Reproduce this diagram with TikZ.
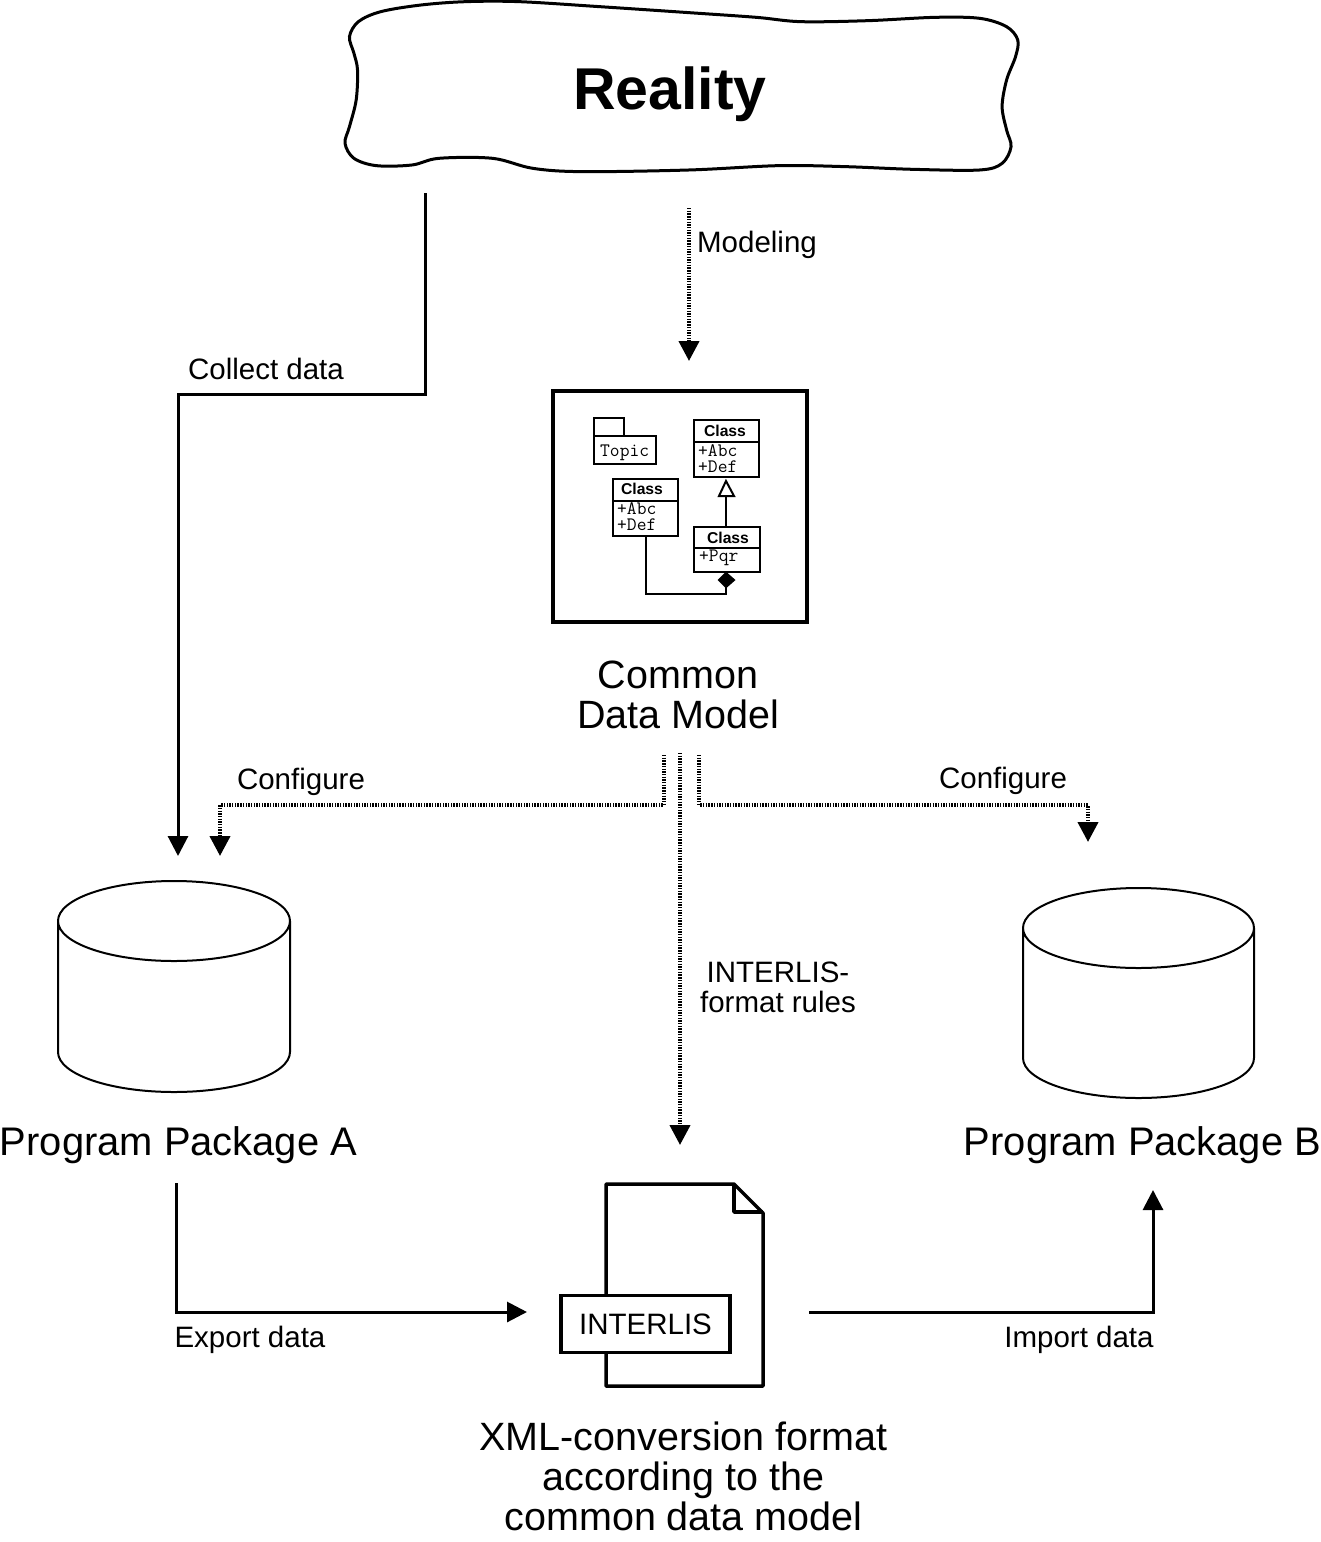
\documentclass[tikz,border=0pt]{standalone}
\usepackage{fontspec}
\setmainfont{Liberation Sans}
\usetikzlibrary{arrows.meta}
\tikzset{
  solidarrow/.style={line width=3pt,-{Triangle[length=20pt,width=20pt]},line join=miter},
  dotarrow/.style={line width=4pt,dash pattern=on 1.4pt off 1.3pt,-{Triangle[length=20pt,width=20pt,sep=0pt]}},
  lbl/.style={font=\fontsize{29.5}{30}\selectfont,inner sep=0pt,anchor=center},
  biglbl/.style={font=\fontsize{39.5}{40}\selectfont,inner sep=0pt,anchor=center,align=center},
  pkglbl/.style={font=\fontsize{39.9}{40}\selectfont,inner sep=0pt,anchor=center},
  obj/.style={line width=3.5pt,line join=round},
  umlbox/.style={line width=2pt,fill=white},
  umltitle/.style={font=\bfseries\fontsize{15.7}{16}\selectfont,inner sep=0pt},
  umlattr/.style={font=\ttfamily\fontsize{19}{16}\selectfont,inner sep=0pt,anchor=west,align=left},
  cyl/.style={line width=2pt,fill=white},
}
\begin{document}
\begin{tikzpicture}[x=1pt,y=-1pt]
\useasboundingbox (0,0) rectangle (1321,1542);
\fill[white] (0,0) rectangle (1321,1542);
% Reality
\draw[line width=3pt,shift={(331.6,0)},x=0.447pt,y=-0.3333pt] plot[smooth cycle,tension=0.55] coordinates {
 (40,110)(60,65)(110,35)(200,15)(300,5)(420,5)(600,20)(800,38)(950,52)(1050,65)(1200,62)(1350,52)(1450,55)(1510,80)(1535,120)(1530,170)(1510,240)(1500,320)(1510,390)(1520,440)(1500,490)(1450,510)(1300,508)(1150,500)(1000,497)(800,510)(560,515)(450,505)(360,475)(240,475)(180,495)(100,497)(50,475)(30,430)(40,380)(55,300)(58,210)(50,160)};
\node[inner sep=0pt,font=\bfseries\fontsize{59}{60}\selectfont] (reality) at (670,94) {Reality};
% coordinates
\coordinate (cs) at (425,193); \coordinate (c1) at (425,394); \coordinate (c2) at (178,394); \coordinate (ce) at (178,856);
\coordinate (ms) at (689,208); \coordinate (me) at (689,361);
\coordinate (ls) at (664,755); \coordinate (l1) at (664,805); \coordinate (l2) at (220,805); \coordinate (le) at (220,856);
\coordinate (rs) at (699,755); \coordinate (r1) at (699,805); \coordinate (r2) at (1088,805); \coordinate (re) at (1088,842);
\coordinate (is) at (680,753); \coordinate (ie) at (680,1145);
\coordinate (xs) at (176,1183); \coordinate (x1) at (176,1312); \coordinate (xe) at (527,1312);
\coordinate (ps) at (809,1312); \coordinate (p1) at (1153,1312); \coordinate (pe) at (1153,1190);
\draw[solidarrow] (cs) -- (c1) -- (c2) -- (ce);
\draw[dotarrow] (ms) -- (me);
\draw[dotarrow] (ls) -- (l1) -- (l2) -- (le);
\draw[dotarrow] (rs) -- (r1) -- (r2) -- (re);
\draw[dotarrow] (is) -- (ie);
\draw[solidarrow] (xs) -- (x1) -- (xe);
\draw[solidarrow] (ps) -- (p1) -- (pe);
% labels
\node[lbl] (modeling) at (757,245) {Modeling};
\node[lbl] (collect) at (266,369) {Collect data};
\node[lbl] (confa) at (301,782) {Configure};
\node[lbl] (confb) at (1003,781) {Configure};
\node[lbl,align=center] (rules) at (778,987) {INTERLIS-\\format rules};
\node[lbl] (export) at (250,1340) {Export data};
\node[lbl] (import) at (1079,1340) {Import data};
% UML panel
\draw[line width=4pt,fill=white] (553,391) rectangle (807,622);
\draw[umlbox] (594,418) rectangle (624,436);
\draw[umlbox] (594,436) rectangle (656,464);
\node[umlattr] (topic) at (600,453) {Topic};
\draw[line width=2pt] (646,536) -- (646,594) -- (726,594) -- (726,587);
\draw[line width=2pt] (726,496) -- (726,527);
\draw[umlbox] (726,481) -- (719,496) -- (734,496) -- cycle;
\draw[umlbox,fill=black] (726,573) -- (719,580) -- (726,587) -- (734,580) -- cycle;
\draw[umlbox] (694,420) rectangle (759,477); \draw[line width=2pt] (694,442) -- (759,442);
\draw[umlbox] (613,479) rectangle (678,536); \draw[line width=2pt] (613,501) -- (678,501);
\draw[umlbox] (694,527) rectangle (760,572); \draw[line width=2pt] (694,548) -- (760,548);
\node[umltitle] (t1) at (725,431) {Class};
\node[umltitle] (t2) at (642,489) {Class};
\node[umltitle] (t3) at (728,538) {Class};
\node[umlattr] (a1) at (698,459) {+Abc\\+Def};
\node[umlattr] (a2) at (617,517) {+Abc\\+Def};
\node[umlattr] (a3) at (699,558) {+Pqr};
\node[biglbl] (cdm) at (678,695) {Common\\Data Model};
% cylinders
\draw[cyl] (58,921) arc[start angle=180,end angle=0,x radius=116,y radius=40] -- (290,1052) arc[start angle=0,end angle=180,x radius=116,y radius=40] -- cycle;
\draw[line width=2pt] (58,921) arc[start angle=180,end angle=360,x radius=116,y radius=40];
\draw[cyl] (1023,928) arc[start angle=180,end angle=0,x radius=115.5,y radius=40] -- (1254,1058) arc[start angle=0,end angle=180,x radius=115.5,y radius=40] -- cycle;
\draw[line width=2pt] (1023,928) arc[start angle=180,end angle=360,x radius=115.5,y radius=40];
\node[pkglbl] (pa) at (178.5,1145) {Program Package A};
\node[pkglbl] (pb) at (1142.5,1145) {Program Package B};
% document
\draw[obj,fill=white] (606,1184) -- (734,1184) -- (763,1213) -- (763,1386) -- (606,1386) -- cycle;
\draw[obj] (734,1184) -- (734,1212) -- (763,1212);
\node[draw,line width=3.5pt,fill=white,minimum width=169pt,minimum height=57pt,inner sep=0pt,font=\fontsize{29.5}{30}\selectfont] (il) at (645.5,1324) {INTERLIS};
\node[biglbl] (xml) at (683.5,1476) {XML-conversion format\\according to the\\common data model};
\end{tikzpicture}
\end{document}
